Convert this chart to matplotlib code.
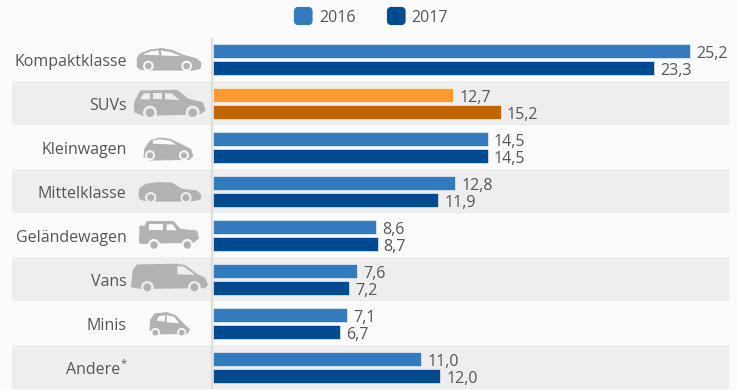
"""Neuzulassungen nach Segment, 2016 vs 2017 (horizontal grouped bars with car icons)."""

import matplotlib
matplotlib.use("Agg")
import matplotlib.pyplot as plt
from matplotlib.patches import Circle, FancyBboxPatch, Polygon, Rectangle
import numpy as np

plt.rcParams["font.family"] = ["Open Sans", "DejaVu Sans"]

CATEGORIES = ["Kompaktklasse", "SUVs", "Kleinwagen", "Mittelklasse",
              "Geländewagen", "Vans", "Minis", "Andere"]
VALUES_2016 = [25.2, 12.7, 14.5, 12.8, 8.6, 7.6, 7.1, 11.0]
VALUES_2017 = [23.3, 15.2, 14.5, 11.9, 8.7, 7.2, 6.7, 12.0]
YEARS = ["2016", "2017"]
HIGHLIGHT = "SUVs"

BLUE = "#337ABF"
NAVY = "#004A8F"
ORANGE = "#FF9A33"
BROWN = "#C26500"
BG = "#FBFBFB"
BAND = "#EEEEEE"
GREY = "#B2B2B2"
TEXT = "#555555"

W, H = 737, 390
X0, PX_PER_UNIT = 212.8, 18.95
ROW0, ROW_PX = 59.5, 44.0

# icon outlines traced at 3x, (origin, body, windows, wheels, wheel radius)
ICONS = {
    "Kompaktklasse": ((130, 40),
        [(22, 80), (22, 55), (30, 42), (60, 30), (95, 26), (125, 31), (160, 46), (198, 56),
         (212, 68), (211, 84), (190, 90), (50, 90), (30, 87)],
        [[(38, 44), (62, 34), (85, 31), (88, 46)], [(92, 31), (122, 36), (152, 48), (95, 47)]],
        [(55, 78), (170, 78)], 16),
    "SUVs": ((130, 40),
        [(13, 205), (15, 185), (32, 153), (140, 151), (175, 178), (218, 188), (225, 210),
         (210, 222), (40, 226), (15, 216)],
        [[(30, 178), (42, 160), (60, 160), (60, 178)], [(68, 160), (95, 160), (95, 178), (68, 178)],
         [(105, 160), (125, 160), (148, 180), (105, 178)]],
        [(60, 218), (188, 218)], 21),
    "Kleinwagen": ((130, 130),
        [(42, 80), (45, 55), (62, 32), (90, 24), (120, 28), (150, 42), (182, 58), (188, 78),
         (178, 88), (60, 90)],
        [[(70, 31), (90, 28), (120, 32), (140, 44), (68, 41)]],
        [(60, 76), (162, 76)], 15),
    "Mittelklasse": ((130, 130),
        [(27, 195), (30, 176), (48, 163), (80, 158), (125, 159), (155, 178), (200, 183),
         (212, 195), (210, 208), (180, 213), (50, 213), (30, 207)],
        [],
        [(62, 203), (168, 203)], 17),
    "Geländewagen": ((130, 215),
        [(38, 45), (52, 20), (130, 20), (150, 43), (200, 48), (205, 70), (190, 82), (30, 85), (28, 70)],
        [[(58, 28), (100, 28), (100, 45), (58, 45)], [(110, 28), (128, 28), (140, 46), (110, 46)]],
        [(72, 90), (172, 90)], 18),
    "Vans": ((130, 215),
        [(5, 212), (10, 165), (22, 150), (140, 148), (165, 152), (200, 178), (225, 190),
         (232, 210), (225, 218), (30, 220), (3, 215)],
        [[(142, 153), (162, 155), (195, 180), (142, 178)]],
        [(52, 217), (193, 217)], 19),
    "Minis": ((130, 300),
        [(60, 88), (62, 60), (75, 42), (110, 38), (135, 46), (160, 72), (178, 88), (172, 100), (70, 102)],
        [[(85, 50), (105, 45), (105, 65), (80, 62)], [(110, 45), (132, 50), (148, 70), (110, 67)]],
        [(76, 98), (155, 98)], 14),
}
GELANDE_SPARE = (130 + 28 / 3, 215 + 32 / 3, 17 / 3, 36 / 3)


def draw_icon(ax, icon, bg):
    origin, body, windows, wheels, r = icon

    def to_px(pts):
        return [(origin[0] + x / 3, origin[1] + y / 3) for x, y in pts]

    ax.add_patch(Polygon(to_px(body), closed=True, fc=GREY, ec=GREY, lw=0.8, joinstyle="round", zorder=5))
    for win in windows:
        ax.add_patch(Polygon(to_px(win), closed=True, fc=bg, ec="none", zorder=6))
    for c in to_px(wheels):
        ax.add_patch(Circle(c, r / 3, fc=bg, ec="none", zorder=6))
        ax.add_patch(Circle(c, r / 3 * 0.62, fc=GREY, ec="none", zorder=7))


def main():
    fig = plt.figure(figsize=(W / 100, H / 100), dpi=100, facecolor=BG)

    # whole figure is one axes, x in percent and y in rows, so the bars stay on real scales
    ax = fig.add_axes([0, 0, 1, 1], facecolor=BG)
    ax.set_xlim(-X0 / PX_PER_UNIT, (W - X0) / PX_PER_UNIT)
    ax.set_ylim((H - ROW0) / ROW_PX, -ROW0 / ROW_PX)
    ax.axis("off")

    # overlay in pixels for icons and the legend swatches
    px = fig.add_axes([0, 0, 1, 1], facecolor="none")
    px.set_xlim(0, W)
    px.set_ylim(H, 0)
    px.axis("off")

    y = np.arange(len(CATEGORIES))
    bar_h = 14 / ROW_PX
    off = 8.9 / ROW_PX
    text_dy = 2.5 / ROW_PX

    for i, cat in enumerate(CATEGORIES):
        if i % 2 == 1:
            ax.add_patch(Rectangle((-(X0 - 12) / PX_PER_UNIT, i - 0.5), (729 - 12) / PX_PER_UNIT, 1,
                                   fc=BAND, ec="none", zorder=1))
        c16, c17 = (ORANGE, BROWN) if cat == HIGHLIGHT else (BLUE, NAVY)
        ax.barh(y[i] - off, VALUES_2016[i], height=bar_h, color=c16, edgecolor="#FFFFFF", linewidth=0.4, zorder=3)
        ax.barh(y[i] + off, VALUES_2017[i], height=bar_h, color=c17, edgecolor="#FFFFFF", linewidth=0.4, zorder=3)
        for val, yy in ((VALUES_2016[i], y[i] - off), (VALUES_2017[i], y[i] + off)):
            ax.text(val + 6 / PX_PER_UNIT, yy + text_dy + 0.01, f"{val:.1f}".replace(".", ","), va="center", ha="left",
                    fontsize=11.5, color=TEXT, zorder=4)

        label_x = -(X0 - 126.7) / PX_PER_UNIT
        if cat == "Andere":
            ax.text(label_x - 6 / PX_PER_UNIT, i + text_dy, cat, ha="right", va="center", fontsize=11.5, color=TEXT)
            ax.text(label_x - 6 / PX_PER_UNIT, i - 0.08, "*", ha="left", va="center", fontsize=8, color=TEXT)
        else:
            ax.text(label_x, i + text_dy, cat, ha="right", va="center", fontsize=11.5, color=TEXT)

        if cat in ICONS:
            draw_icon(px, ICONS[cat], BAND if i % 2 == 1 else BG)

    # spare wheel on the back of the Geländewagen
    px.add_patch(FancyBboxPatch(GELANDE_SPARE[:2], GELANDE_SPARE[2], GELANDE_SPARE[3],
                                boxstyle="round,pad=0,rounding_size=1.5", fc=GREY, ec="none", zorder=5))

    ax.plot([-0.5 / PX_PER_UNIT] * 2, [(38 - ROW0) / ROW_PX, (389.5 - ROW0) / ROW_PX],
            color="#DDDDDD", lw=1.6, zorder=2, solid_capstyle="butt")

    # legend
    for sx, tx, col, year in ((294, 319.5, BLUE, YEARS[0]), (387, 411.5, NAVY, YEARS[1])):
        px.add_patch(FancyBboxPatch((sx + 2, 9), 14.5, 14, boxstyle="round,pad=0,rounding_size=2",
                                    mutation_aspect=1, fc=col, ec=col, lw=3, joinstyle="round"))
        px.text(tx, 18, year, ha="left", va="center", fontsize=11.5, color=TEXT)

    fig.savefig("out.png", dpi=100, facecolor=BG)
    plt.close(fig)


if __name__ == "__main__":
    main()
